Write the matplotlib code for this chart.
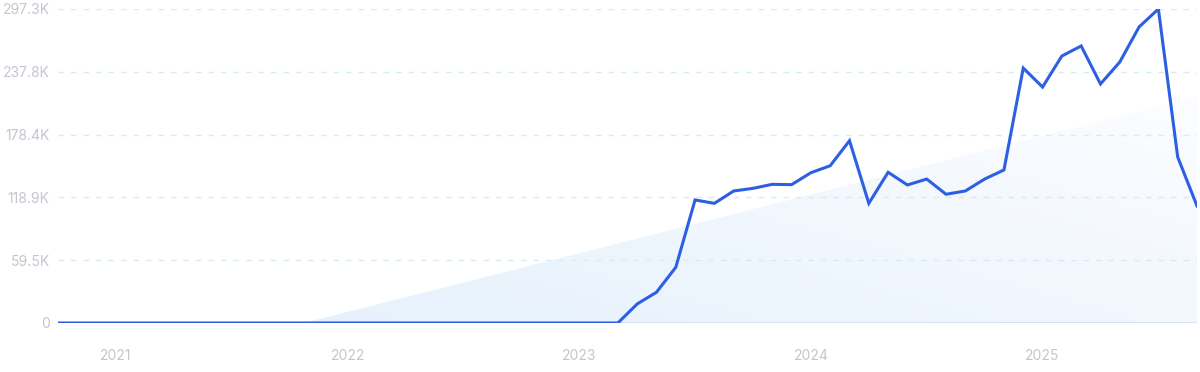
import numpy as np
import matplotlib
matplotlib.use("Agg")
import matplotlib.pyplot as plt
from matplotlib.patches import Polygon

# Monthly values, Oct 2020 .. Sep 2025 (60 months)
values = [0]*30 + [
    18.0, 29.1, 52.7, 116.5, 113.3, 125.0, 127.5, 131.3, 131.0, 142.3,
    148.9, 172.6, 113.3, 142.7, 130.7, 136.3, 121.9, 125.0, 136.3, 144.9,
    241.4, 223.4, 252.8, 262.3, 226.3, 247.1, 280.3, 297.3, 157.2, 110.8,
]
values = np.array(values) * 1000
year_labels = ["2021", "2022", "2023", "2024", "2025"]
year_positions = [3, 15, 27, 39, 51]
ytick_values = [0, 59.5e3, 118.9e3, 178.4e3, 237.8e3, 297.3e3]
ytick_labels = ["0", "59.5K", "118.9K", "178.4K", "237.8K", "297.3K"]

plt.rcParams['font.family'] = ['Inter', 'DejaVu Sans']

fig = plt.figure(figsize=(12, 3.72), dpi=100)
ax = fig.add_axes([58/1200, 1-323/372, (1197-58)/1200, (323-9)/372])

x = np.arange(len(values))
ax.set_xlim(0, len(values)-1)
ax.set_ylim(0, 297.3e3)

# trend
coef = np.polyfit(x, values, 1)
print(coef)
trend = np.polyval(coef, x)
x0 = -coef[1]/coef[0]
xe = x[-1]
poly_pts = [(x0, 0), (xe, np.polyval(coef, xe)), (xe, 0)]
grad = np.zeros((100, 100, 4))
xx, yy = np.meshgrid(np.linspace(0, 1, 100), np.linspace(0, 1, 100))
t = np.clip(0.6*xx + 0.6*(1-yy), 0, 1)  # yy=0 bottom? handled by origin
c0 = np.array([0.89, 0.94, 0.985])
c1 = np.array([0.985, 0.99, 1.0])
for k in range(3):
    grad[..., k] = c0[k]*(1-t) + c1[k]*t
grad[..., 3] = 1
im = ax.imshow(grad, extent=[0, xe, 0, 297.3e3], origin='upper', aspect='auto', zorder=1)
patch = Polygon(poly_pts, closed=True, facecolor='none', edgecolor='none')
ax.add_patch(patch)
im.set_clip_path(patch)

for v in ytick_values[1:]:
    ax.axhline(v, color='#d5ecf7', lw=1, dashes=(4, 5), zorder=2)
ax.axhline(0, color='#dde3ee', lw=1.5, zorder=2)

ax.plot(x, values, color='#2d5fe3', lw=2.2, zorder=3, solid_joinstyle='miter')

for s in ax.spines.values():
    s.set_visible(False)
ax.set_yticks(ytick_values)
ax.set_yticklabels(ytick_labels)
ax.set_xticks(year_positions)
ax.set_xticklabels(year_labels)
ax.tick_params(axis='y', length=0, pad=6, labelsize=10, labelcolor='#c3c6cf')
ax.tick_params(axis='x', length=0, pad=19, labelsize=10, labelcolor='#c3c6cf')

fig.savefig("out.png", dpi=100)
